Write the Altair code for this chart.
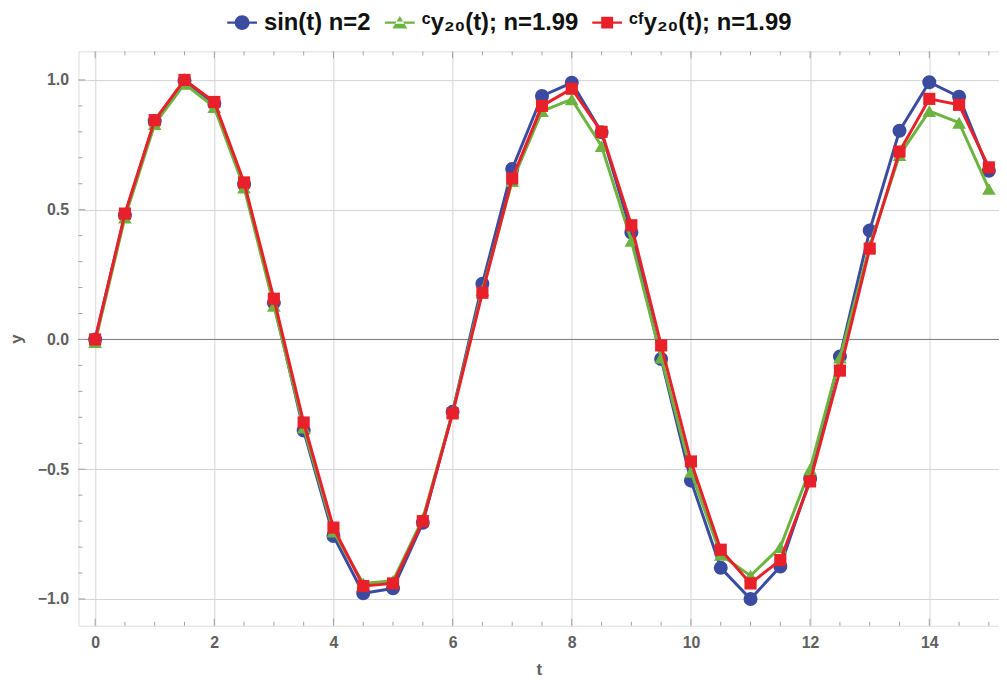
import altair as alt
import pandas as pd

# ---- data ----
t_vals = [0, 0.5, 1, 1.5, 2, 2.5, 3, 3.5, 4, 4.5, 5, 5.5, 6, 6.5, 7, 7.5,
          8, 8.5, 9, 9.5, 10, 10.5, 11, 11.5, 12, 12.5, 13, 13.5, 14, 14.5, 15]
sin_vals = [0.000, 0.479, 0.841, 0.997, 0.909, 0.598, 0.141, -0.351, -0.757, -0.978,
            -0.959, -0.706, -0.279, 0.215, 0.657, 0.938, 0.989, 0.798, 0.412, -0.075,
            -0.544, -0.880, -1.000, -0.875, -0.537, -0.066, 0.420, 0.804, 0.991, 0.935, 0.650]
c_vals = [-0.01, 0.47, 0.83, 0.985, 0.895, 0.585, 0.13, -0.34, -0.74, -0.94,
          -0.93, -0.69, -0.28, 0.19, 0.61, 0.88, 0.925, 0.745, 0.38, -0.07,
          -0.51, -0.83, -0.91, -0.80, -0.50, -0.07, 0.36, 0.71, 0.88, 0.835, 0.58]
cf_vals = [0.0, 0.485, 0.845, 1.0, 0.915, 0.605, 0.157, -0.32, -0.725, -0.95,
           -0.94, -0.70, -0.285, 0.18, 0.62, 0.90, 0.966, 0.80, 0.44, -0.023,
           -0.47, -0.81, -0.94, -0.85, -0.547, -0.12, 0.35, 0.724, 0.927, 0.904, 0.663]

series_names = ["sin(t) n=2", "ᶜy₂₀(t); n=1.99", "ᶜᶠy₂₀(t); n=1.99"]
series_colors = ["#3b4ba0", "#6cb33f", "#e8202a"]
series_shapes = ["circle", "triangle-up", "square"]
series_sizes = [200, 190, 150]

x_major = [0, 2, 4, 6, 8, 10, 12, 14]
x_minor = [0.5, 1, 1.5, 2.5, 3, 3.5, 4.5, 5, 5.5, 6.5, 7, 7.5, 8.5, 9, 9.5,
           10.5, 11, 11.5, 12.5, 13, 13.5, 14.5, 15]
y_major = [-1.0, -0.5, 0.0, 0.5, 1.0]
y_minor = [-0.9, -0.8, -0.7, -0.6, -0.4, -0.3, -0.2, -0.1,
           0.1, 0.2, 0.3, 0.4, 0.6, 0.7, 0.8, 0.9]

# ---- layout / style ----
W, H = 928, 579
XDOM = [-0.28, 15.17]
YDOM = [-1.103, 1.11]
FONT = "'Liberation Sans Narrow', 'Liberation Sans', Arial, sans-serif"
LABEL_GRAY = "#5f5f5f"
FRAME = "#a0a0a0"

legend_paths = [
    "M-1,-0.07 L1,-0.07 L1,0.07 L-1,0.07 Z "
    "M-0.5,0 A0.5,0.5 0 1,1 0.5,0 A0.5,0.5 0 1,1 -0.5,0 Z",
    "M-1,-0.07 L1,-0.07 L1,0.07 L-1,0.07 Z "
    "M-0.5,0.4 L0.5,0.4 L0,-0.45 Z",
    "M-1,-0.07 L1,-0.07 L1,0.07 L-1,0.07 Z "
    "M-0.4,-0.4 L0.4,-0.4 L0.4,0.4 L-0.4,0.4 Z",
]

rows = []
for name, vals in zip(series_names, [sin_vals, c_vals, cf_vals]):
    for t, v in zip(t_vals, vals):
        rows.append({"t": t, "y": v, "series": name})
df = pd.DataFrame(rows)

xs = alt.Scale(domain=XDOM, nice=False, zero=False)
ys = alt.Scale(domain=YDOM, nice=False, zero=False)

x_axis = alt.Axis(values=x_major, title="t", grid=True, gridColor="#d3d3d3", gridWidth=1,
                  ticks=False, tickSize=0, domain=False, labelFont=FONT, labelFontSize=16,
                  labelFontWeight="bold", labelColor=LABEL_GRAY, labelPadding=9,
                  titleFont=FONT, titleFontSize=17, titleFontWeight="bold",
                  titleColor=LABEL_GRAY, titlePadding=11, format="d")
y_axis = alt.Axis(values=y_major, title="y", grid=True, gridColor="#d3d3d3", gridWidth=1,
                  ticks=False, tickSize=0, domain=False, labelFont=FONT, labelFontSize=16,
                  labelFontWeight="bold", labelColor=LABEL_GRAY, labelPadding=10,
                  format=".1f", titleFont=FONT, titleFontSize=17, titleFontWeight="bold",
                  titleColor=LABEL_GRAY, titlePadding=12)

X = alt.X("t:Q", scale=xs, axis=x_axis)
Y = alt.Y("y:Q", scale=ys, axis=y_axis)

layers = []

# zero line
zero_df = pd.DataFrame({"y": [0.0]})
layers.append(
    alt.Chart(zero_df).mark_rule(color="#7a7a7a", strokeWidth=1).encode(y=Y)
)

# series
for name, color, shape, size in zip(series_names, series_colors, series_shapes, series_sizes):
    sub = alt.Chart(df).transform_filter(alt.datum.series == name)
    layers.append(sub.mark_line(color=color, strokeWidth=3).encode(x=X, y=Y))
    layers.append(
        sub.mark_point(shape=shape, filled=True, size=size, opacity=1, color=color).encode(x=X, y=Y)
    )

# legend carrier
legend = alt.Legend(orient="none", legendX=150, legendY=-44, direction="horizontal",
                    title=None, labelFont=FONT, labelFontSize=24, labelFontWeight="bold",
                    labelColor="#111111", labelLimit=400, labelOffset=7, symbolSize=900,
                    columnPadding=14, padding=0, symbolStrokeWidth=0, symbolOpacity=1)
layers.append(
    alt.Chart(df).transform_filter("datum.t < -100").mark_point(filled=True, opacity=1, size=900).encode(
        x=X, y=Y,
        color=alt.Color("series:N", scale=alt.Scale(domain=series_names, range=series_colors), legend=legend),
        shape=alt.Shape("series:N", scale=alt.Scale(domain=series_names, range=legend_paths), legend=legend),
    )
)

# inward ticks on frame
def xticks(vals, length, top):
    d = pd.DataFrame({"t": vals})
    return alt.Chart(d).mark_rule(color=FRAME, strokeWidth=1).encode(
        x=X,
        y=alt.value(0 if top else H),
        y2=alt.value(length if top else H - length),
    )

def yticks(vals, length):
    d = pd.DataFrame({"y": vals})
    return alt.Chart(d).mark_rule(color=FRAME, strokeWidth=1).encode(
        y=Y,
        x=alt.value(0),
        x2=alt.value(length),
    )

layers += [xticks(x_major, 7, False), xticks(x_minor, 4, False),
           xticks(x_major, 7, True), xticks(x_minor, 4, True),
           yticks(y_major, 7), yticks(y_minor, 4)]

chart = alt.layer(*layers).properties(
    width=W, height=H,
    autosize=alt.AutoSizeParams(type="none"),
    padding={"left": 71, "top": 41, "right": 0, "bottom": 52},
).configure_view(stroke=FRAME, strokeWidth=1).configure(background="white")

chart.save("out.html", embed_options={"renderer": "svg", "actions": False})
